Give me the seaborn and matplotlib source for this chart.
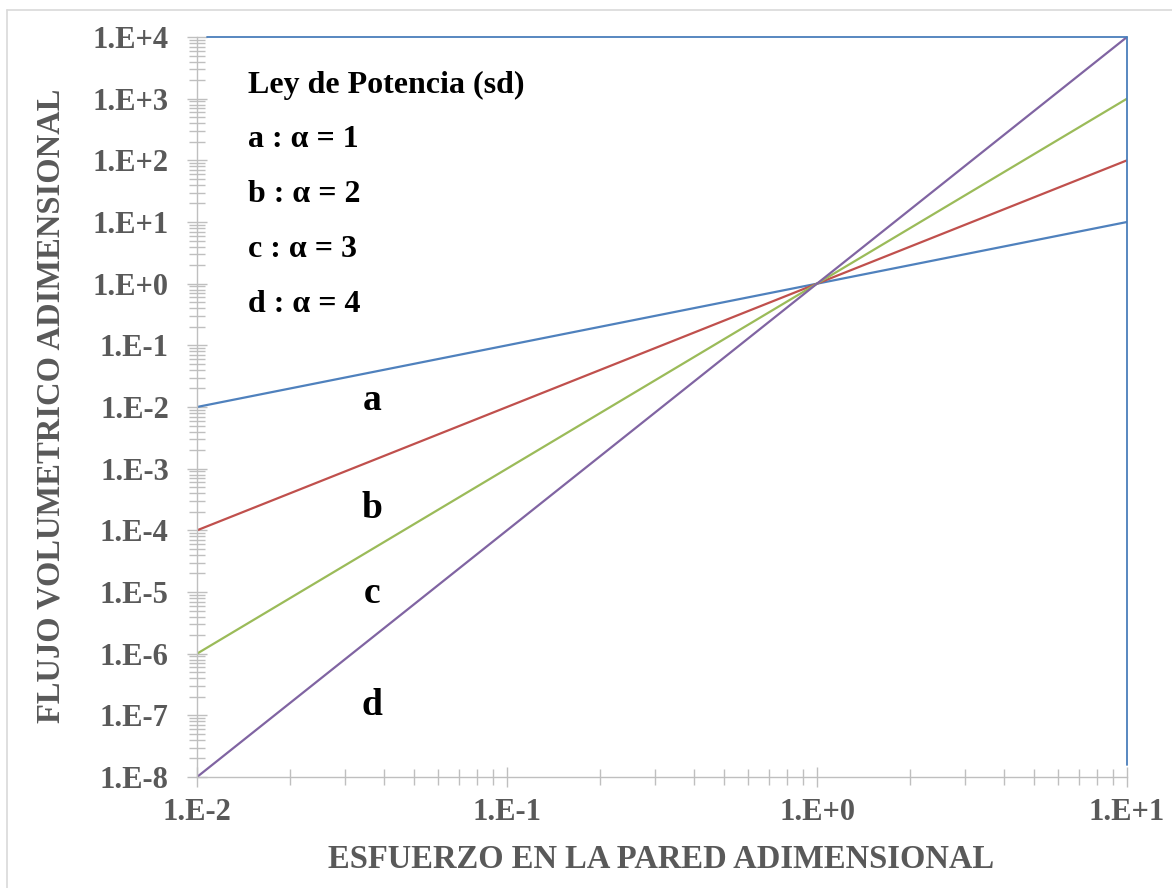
import matplotlib
matplotlib.use("Agg")
import matplotlib.pyplot as plt
from matplotlib.lines import Line2D
from matplotlib.ticker import FixedLocator, FixedFormatter, LogLocator, NullFormatter
import numpy as np
import pandas as pd
import seaborn as sns

# Dimensionless wall stress and volumetric flow for the power law, alpha = 1..4
stress = [0.01, 1.0, 10.0]
flow_a = [1e-2, 1.0, 1e1]
flow_b = [1e-4, 1.0, 1e2]
flow_c = [1e-6, 1.0, 1e3]
flow_d = [1e-8, 1.0, 1e4]
series_names = ["a", "b", "c", "d"]
alphas = [1, 2, 3, 4]

x_ticks = [1e-2, 1e-1, 1e0, 1e1]
x_tick_labels = ["1.E-2", "1.E-1", "1.E+0", "1.E+1"]
y_ticks = [1e-8, 1e-7, 1e-6, 1e-5, 1e-4, 1e-3, 1e-2, 1e-1, 1e0, 1e1, 1e2, 1e3, 1e4]
y_tick_labels = ["1.E-8", "1.E-7", "1.E-6", "1.E-5", "1.E-4", "1.E-3", "1.E-2",
                 "1.E-1", "1.E+0", "1.E+1", "1.E+2", "1.E+3", "1.E+4"]

# in-plot curve tags (position in data units)
tag_x = [0.0367, 0.0367, 0.0367, 0.0367]
tag_y = [8.9e-3, 1.6e-4, 6.6e-6, 1.0e-7]

colors = ["#4F81BD", "#C0504D", "#9BBB59", "#8064A2"]

df = pd.DataFrame({
    "x": stress * 4,
    "y": flow_a + flow_b + flow_c + flow_d,
    "curve": [n for n in series_names for _ in stress],
})

sns.set_style("white")
plt.rcParams["font.family"] = ["Liberation Serif", "DejaVu Serif"]
plt.rcParams["font.weight"] = "bold"

W, H = 1172, 888
fig = plt.figure(figsize=(W / 100, H / 100), dpi=100)
ax = fig.add_axes([197 / W, 1 - 777 / H, 930 / W, 740 / H])

sns.lineplot(data=df, x="x", y="y", hue="curve", palette=colors,
             linewidth=1.6, legend=False, ax=ax)

ax.set_xscale("log")
ax.set_yscale("log")
ax.set_xlim(1e-2, 1e1)
ax.set_ylim(1e-8, 1e4)

grey = "#BFBFBF"
label_grey = "#595959"

ax.xaxis.set_major_locator(FixedLocator(x_ticks))
ax.xaxis.set_major_formatter(FixedFormatter(x_tick_labels))
ax.yaxis.set_major_locator(FixedLocator(y_ticks))
ax.yaxis.set_major_formatter(FixedFormatter(y_tick_labels))
ax.xaxis.set_minor_locator(LogLocator(base=10, subs=np.arange(2, 10), numticks=20))
ax.yaxis.set_minor_locator(LogLocator(base=10, subs=np.arange(2, 10), numticks=30))
ax.xaxis.set_minor_formatter(NullFormatter())
ax.yaxis.set_minor_formatter(NullFormatter())

ax.tick_params(axis="both", which="both", bottom=True, left=True,
               top=False, right=False)
ax.tick_params(axis="both", which="major", direction="inout", length=14.5,
               width=1.0, color=grey, labelsize=22, labelcolor=label_grey)
ax.tick_params(axis="both", which="minor", direction="inout", length=12,
               width=1.0, color=grey)
ax.tick_params(axis="y", which="major", pad=13)
ax.tick_params(axis="x", which="major", pad=8)
for lbl in ax.get_xticklabels() + ax.get_yticklabels():
    lbl.set_fontweight("bold")

for side in ["left", "bottom"]:
    ax.spines[side].set_color(grey)
    ax.spines[side].set_linewidth(1.0)
for side in ["top", "right"]:
    ax.spines[side].set_visible(False)

# blue frame on the upper and right edges of the plot area
frame_blue = "#4A7EBB"
ax.add_line(Line2D([10 / 930, 1], [1, 1], transform=ax.transAxes,
                   color=frame_blue, lw=1.3, clip_on=False))
ax.add_line(Line2D([1, 1], [12 / 740, 1], transform=ax.transAxes,
                   color=frame_blue, lw=1.3, clip_on=False))

ax.set_xlabel("")
ax.set_ylabel("")
fig.text(661 / W, 1 - 868 / H, "ESFUERZO EN LA PARED ADIMENSIONAL",
         ha="center", va="baseline", fontsize=23.5, fontweight="bold",
         color=label_grey)
fig.text(60 / W, 1 - 406 / H, "FLUJO VOLUMETRICO ADIMENSIONAL",
         ha="center", va="baseline", rotation=90, rotation_mode="anchor",
         fontsize=23.5, fontweight="bold", color=label_grey)

# key in the upper left corner
key_lines = ["Ley de Potencia (sd)"] + [f"{n} : \u03b1 = {a}" for n, a in zip(series_names, alphas)]
key_y = [0.924, 0.851, 0.777, 0.703, 0.628]
for txt, yy in zip(key_lines, key_y):
    ax.text(0.0548, yy, txt, transform=ax.transAxes, ha="left", va="baseline",
            fontsize=23, fontweight="bold", color="black")

for n, tx, ty in zip(series_names, tag_x, tag_y):
    ax.text(tx, ty, n, ha="center", va="baseline", fontsize=27,
            fontweight="bold", color="black")

# light outer border of the chart area
fig.add_artist(Line2D([7 / W, 1], [1 - 10 / H, 1 - 10 / H],
                      transform=fig.transFigure, color="#D9D9D9", lw=1.2))
fig.add_artist(Line2D([7 / W, 7 / W], [0, 1 - 10 / H],
                      transform=fig.transFigure, color="#D9D9D9", lw=1.2))

fig.savefig("out.png", dpi=100, facecolor="white")
